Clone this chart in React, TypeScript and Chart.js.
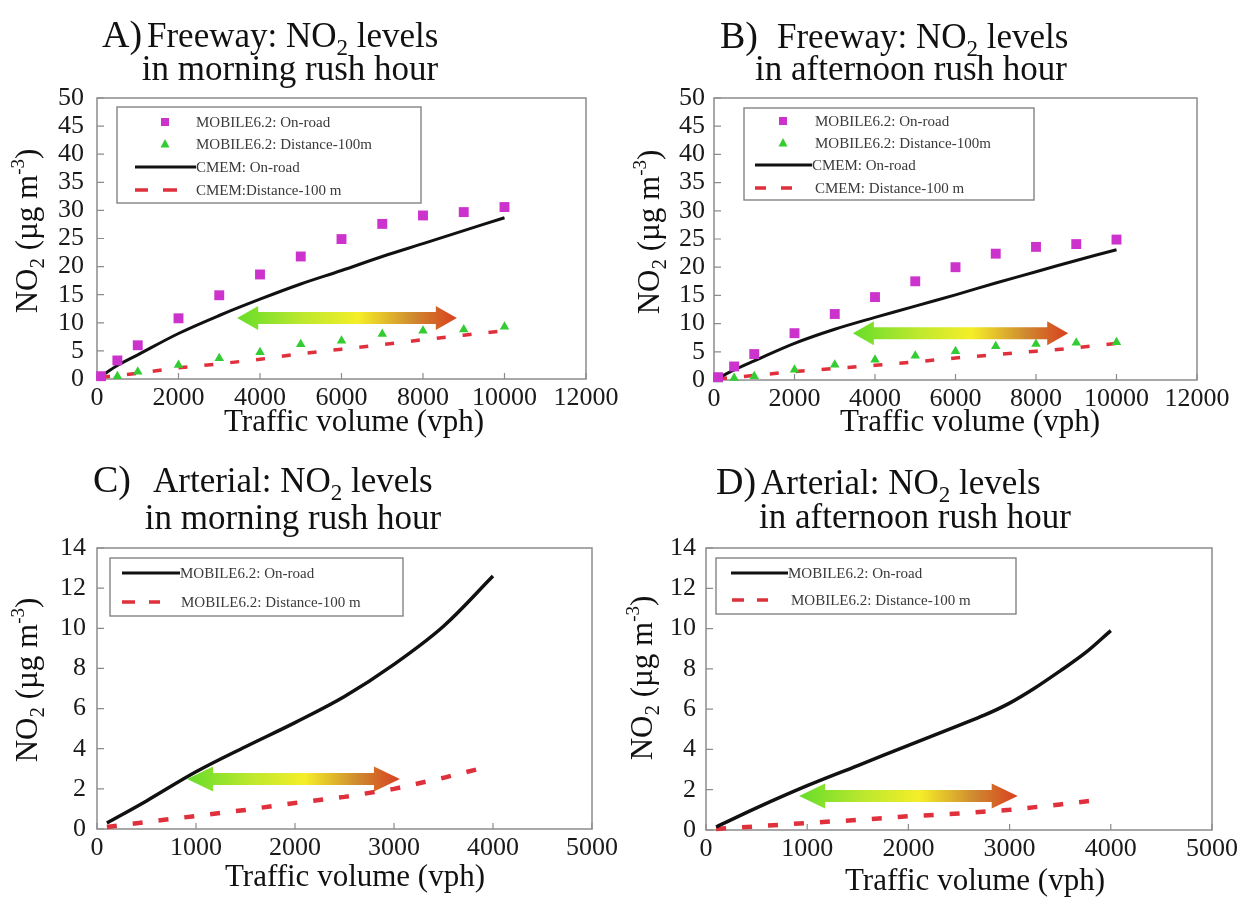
import { useEffect, useRef } from 'react';
import { Chart, registerables } from 'chart.js';

Chart.register(...registerables);

const SERIF = '"Liberation Serif", "Times New Roman", Times, serif';

// ---------------- Tick labels ----------------
const freewayXTicks = [0, 2000, 4000, 6000, 8000, 10000, 12000];
const freewayYTicks = [0, 5, 10, 15, 20, 25, 30, 35, 40, 45, 50];
const arterialXTicks = [0, 1000, 2000, 3000, 4000, 5000];
const arterialYTicks = [0, 2, 4, 6, 8, 10, 12, 14];

// ---------------- Panel A: Freeway, morning ----------------
const freewayVolumes = [100, 500, 1000, 2000, 3000, 4000, 5000, 6000, 7000, 8000, 9000, 10000];
const aMobileOnRoad = [0.5, 3.3, 6.0, 10.8, 14.9, 18.6, 21.8, 24.9, 27.6, 29.1, 29.7, 30.6];
const aMobileDist = [0.2, 0.5, 1.3, 2.5, 3.7, 4.75, 6.2, 6.8, 8.0, 8.6, 8.8, 9.3];
const aCmemOnRoad = [0.5, 2.4, 4.3, 8.1, 11.3, 14.2, 16.9, 19.3, 21.8, 24.1, 26.4, 28.7];
const freewayDistVolumes = [100, 1000, 2000, 3000, 4000, 5000, 6000, 7000, 8000, 9000, 10000];
const aCmemDist = [0.3, 1.0, 2.0, 2.7, 3.5, 4.5, 5.3, 6.1, 7.0, 7.8, 8.6];

// ---------------- Panel B: Freeway, afternoon ----------------
const bMobileOnRoad = [0.5, 2.4, 4.6, 8.3, 11.7, 14.7, 17.5, 20.0, 22.4, 23.6, 24.1, 24.9];
const bMobileDist = [0.1, 0.35, 0.65, 1.8, 2.7, 3.6, 4.3, 5.1, 6.0, 6.4, 6.6, 6.7];
const bCmemOnRoad = [0.3, 1.8, 3.4, 6.5, 9.0, 11.1, 13.1, 15.1, 17.2, 19.2, 21.2, 23.1];
const bCmemDist = [0.2, 0.8, 1.5, 2.05, 2.6, 3.2, 3.9, 4.5, 5.1, 5.7, 6.5];

// ---------------- Panel C: Arterial, morning ----------------
const cVolumes = [100, 500, 1000, 1500, 2000, 2500, 3000, 3500, 4000];
const cMobileOnRoad = [0.3, 1.4, 2.85, 4.1, 5.3, 6.6, 8.2, 10.1, 12.6];
const cDistVolumes = [100, 500, 1000, 1500, 2000, 2500, 3000, 3500, 3900];
const cMobileDist = [0.1, 0.35, 0.65, 0.95, 1.3, 1.6, 2.0, 2.55, 3.05];

// ---------------- Panel D: Arterial, afternoon ----------------
const dVolumes = [100, 500, 1000, 1500, 2000, 2500, 2750, 3000, 3250, 3500, 3750, 4000];
const dMobileOnRoad = [0.15, 1.1, 2.2, 3.2, 4.2, 5.2, 5.7, 6.3, 7.05, 7.9, 8.8, 9.9];
const dDistVolumes = [100, 500, 1000, 1500, 2000, 2500, 3000, 3500, 3800];
const dMobileDist = [0.05, 0.18, 0.35, 0.5, 0.68, 0.82, 1.0, 1.27, 1.45];

// ---------------- Colours ----------------
const MAGENTA = '#cc33cc';
const GREEN = '#33cc33';
const BLACK = '#111111';
const RED = '#e0303c';

const pts = (xs: number[], ys: number[]) => xs.map((x, i) => ({ x, y: ys[i] }));

const squareDs = (xs: number[], ys: number[]) => ({
  data: pts(xs, ys), showLine: false, pointStyle: 'rect', pointRadius: 7,
  backgroundColor: MAGENTA, borderColor: MAGENTA, borderWidth: 0, clip: 10,
});
const triDs = (xs: number[], ys: number[]) => ({
  data: pts(xs, ys), showLine: false, pointStyle: 'triangle', pointRadius: 5.5,
  backgroundColor: GREEN, borderColor: GREEN, borderWidth: 0, clip: 10,
});
const solidDs = (xs: number[], ys: number[], w: number) => ({
  data: pts(xs, ys), showLine: true, pointRadius: 0, borderColor: BLACK, borderWidth: w,
  tension: 0.35, fill: false, clip: 6,
});
const dashDs = (xs: number[], ys: number[], w: number, dash: number[]) => ({
  data: pts(xs, ys), showLine: true, pointRadius: 0, borderColor: RED, borderWidth: w,
  borderDash: dash, fill: false, clip: 6,
});

type Part = { t: string; size: number; dy?: number };
type LegendRow = { kind: 'square' | 'triangle' | 'line' | 'dash'; y: number; x1: number; x2?: number; dashes?: number[][]; textX: number; text: string };

interface PanelCfg {
  left: number; top: number; w: number; h: number;
  area: { l: number; t: number; r: number; b: number };
  xMax: number; yMax: number; xTicks: number[]; yTicks: number[]; yPad: number;
  datasets: any[];
  letter: string; letterX: number; line1: Part[]; line1X: number; base1: number;
  line2: string; line2CX: number; base2: number;
  yTitleX: number; yTitleY: number; xTitleCX: number; xTitleBase: number;
  legend: { l: number; t: number; r: number; b: number; rows: LegendRow[] };
  arrow: { x1: number; x2: number; y: number; headL: number; headH: number; shaftH: number };
}

function drawRich(ctx: CanvasRenderingContext2D, parts: Part[], x: number, y: number, align: 'left' | 'center') {
  let total = 0;
  for (const p of parts) { ctx.font = `${p.size}px ${SERIF}`; total += ctx.measureText(p.t).width; }
  let cx = align === 'center' ? x - total / 2 : x;
  ctx.textAlign = 'left';
  ctx.textBaseline = 'alphabetic';
  for (const p of parts) {
    ctx.font = `${p.size}px ${SERIF}`;
    ctx.fillText(p.t, cx, y + (p.dy || 0));
    cx += ctx.measureText(p.t).width;
  }
}

function makePlugin(cfg: PanelCfg) {
  return {
    id: 'panelDecor',
    beforeDatasetsDraw(chart: any) {
      const ctx: CanvasRenderingContext2D = chart.ctx;
      const a = chart.chartArea;
      const xs = chart.scales.x, ys = chart.scales.y;
      ctx.save();
      ctx.strokeStyle = '#8c8c8c';
      ctx.lineWidth = 1.5;
      ctx.strokeRect(a.left, a.top, a.right - a.left, a.bottom - a.top);
      ctx.lineWidth = 1.2;
      ctx.beginPath();
      for (const v of cfg.xTicks) {
        const px = xs.getPixelForValue(v);
        ctx.moveTo(px, a.bottom); ctx.lineTo(px, a.bottom - 6);
      }
      for (const v of cfg.yTicks) {
        const py = ys.getPixelForValue(v);
        ctx.moveTo(a.left, py); ctx.lineTo(a.left + 7, py);
      }
      ctx.stroke();
      ctx.restore();
    },
    afterDatasetsDraw(chart: any) {
      const ctx: CanvasRenderingContext2D = chart.ctx;
      const xs = chart.scales.x, ys = chart.scales.y;
      // gradient double arrow
      const ar = cfg.arrow;
      const x1 = xs.getPixelForValue(ar.x1), x2 = xs.getPixelForValue(ar.x2), y = ys.getPixelForValue(ar.y);
      ctx.save();
      ctx.beginPath();
      ctx.moveTo(x1, y);
      ctx.lineTo(x1 + ar.headL, y - ar.headH / 2);
      ctx.lineTo(x1 + ar.headL, y - ar.shaftH / 2);
      ctx.lineTo(x2 - ar.headL, y - ar.shaftH / 2);
      ctx.lineTo(x2 - ar.headL, y - ar.headH / 2);
      ctx.lineTo(x2, y);
      ctx.lineTo(x2 - ar.headL, y + ar.headH / 2);
      ctx.lineTo(x2 - ar.headL, y + ar.shaftH / 2);
      ctx.lineTo(x1 + ar.headL, y + ar.shaftH / 2);
      ctx.lineTo(x1 + ar.headL, y + ar.headH / 2);
      ctx.closePath();
      const g = ctx.createLinearGradient(x1, 0, x2, 0);
      g.addColorStop(0, '#66dd2a');
      g.addColorStop(0.3, '#bde82e');
      g.addColorStop(0.55, '#f5ee28');
      g.addColorStop(0.8, '#cf8a30');
      g.addColorStop(1, '#d8401e');
      ctx.fillStyle = g;
      ctx.fill();
      ctx.restore();

      // legend
      const L = cfg.legend;
      ctx.save();
      ctx.fillStyle = '#ffffff';
      ctx.fillRect(L.l, L.t, L.r - L.l, L.b - L.t);
      ctx.strokeStyle = '#7a7a7a';
      ctx.lineWidth = 1.3;
      ctx.strokeRect(L.l, L.t, L.r - L.l, L.b - L.t);
      for (const row of L.rows) {
        if (row.kind === 'square') {
          ctx.fillStyle = MAGENTA;
          ctx.fillRect(row.x1 - 4, row.y - 4, 8, 8);
        } else if (row.kind === 'triangle') {
          ctx.fillStyle = GREEN;
          ctx.beginPath();
          ctx.moveTo(row.x1, row.y - 5);
          ctx.lineTo(row.x1 + 4.5, row.y + 3.5);
          ctx.lineTo(row.x1 - 4.5, row.y + 3.5);
          ctx.closePath();
          ctx.fill();
        } else if (row.kind === 'line') {
          ctx.strokeStyle = BLACK;
          ctx.lineWidth = 3.2;
          ctx.beginPath();
          ctx.moveTo(row.x1, row.y); ctx.lineTo(row.x2 || row.x1, row.y);
          ctx.stroke();
        } else if (row.kind === 'dash') {
          ctx.strokeStyle = RED;
          ctx.lineWidth = 3.5;
          ctx.beginPath();
          for (const d of row.dashes || []) { ctx.moveTo(d[0], row.y); ctx.lineTo(d[1], row.y); }
          ctx.stroke();
        }
        ctx.fillStyle = '#3a3a3a';
        ctx.font = `15px ${SERIF}`;
        ctx.textAlign = 'left';
        ctx.textBaseline = 'middle';
        ctx.fillText(row.text, row.textX, row.y + 1);
      }
      ctx.restore();
    },
    afterDraw(chart: any) {
      const ctx: CanvasRenderingContext2D = chart.ctx;
      ctx.save();
      ctx.fillStyle = '#111111';
      // panel title
      drawRich(ctx, [{ t: cfg.letter, size: 38 }], cfg.letterX, cfg.base1, 'left');
      drawRich(ctx, cfg.line1, cfg.line1X, cfg.base1, 'left');
      drawRich(ctx, [{ t: cfg.line2, size: 35 }], cfg.line2CX, cfg.base2, 'center');
      // x axis title
      drawRich(ctx, [{ t: 'Traffic volume (vph)', size: 31 }], cfg.xTitleCX, cfg.xTitleBase, 'center');
      // y axis title
      ctx.translate(cfg.yTitleX, cfg.yTitleY);
      ctx.rotate(-Math.PI / 2);
      drawRich(ctx, [
        { t: 'NO', size: 31 }, { t: '2', size: 21, dy: 7 }, { t: ' (µg m', size: 31 },
        { t: '-3', size: 19, dy: -13 }, { t: ')', size: 31 },
      ], 0, 10, 'center');
      ctx.restore();
    },
  };
}

function buildConfig(cfg: PanelCfg): any {
  const tickFont = { family: SERIF, size: 26 };
  const plain = (v: any) => String(v);
  return {
    type: 'scatter',
    data: { datasets: cfg.datasets },
    options: {
      animation: false,
      responsive: false,
      devicePixelRatio: 1,
      layout: { padding: { top: cfg.area.t, right: cfg.w - cfg.area.r, left: 0, bottom: 0 } },
      plugins: { legend: { display: false }, tooltip: { enabled: false }, title: { display: false } },
      scales: {
        x: {
          type: 'linear', min: 0, max: cfg.xMax,
          afterBuildTicks: (s: any) => { s.ticks = cfg.xTicks.map((v) => ({ value: v })); },
          afterFit: (s: any) => { s.height = cfg.h - cfg.area.b; },
          grid: { display: false, drawTicks: false },
          border: { display: false },
          ticks: { font: tickFont, color: '#1a1a1a', padding: 4, maxRotation: 0, autoSkip: false, callback: plain },
        },
        y: {
          type: 'linear', min: 0, max: cfg.yMax,
          afterBuildTicks: (s: any) => { s.ticks = cfg.yTicks.map((v) => ({ value: v })); },
          afterFit: (s: any) => { s.width = cfg.area.l; },
          grid: { display: false, drawTicks: false },
          border: { display: false },
          ticks: { font: tickFont, color: '#1a1a1a', padding: cfg.yPad, autoSkip: false, callback: plain },
        },
      },
    },
    plugins: [makePlugin(cfg)],
  };
}

const sub2 = (before: string, after: string): Part[] => [
  { t: before, size: 35 }, { t: '2', size: 23, dy: 8 }, { t: after, size: 35 },
];

const panels: PanelCfg[] = [
  {
    left: 0, top: 0, w: 624, h: 456,
    area: { l: 97, t: 98, r: 586, b: 379 },
    xMax: 12000, yMax: 50, xTicks: freewayXTicks, yTicks: freewayYTicks, yPad: 13,
    datasets: [
      squareDs(freewayVolumes, aMobileOnRoad),
      triDs(freewayVolumes, aMobileDist),
      solidDs(freewayVolumes, aCmemOnRoad, 3),
      dashDs(freewayDistVolumes, aCmemDist, 3.5, [9, 17]),
    ],
    letter: 'A)', letterX: 102, line1: sub2('Freeway: NO', ' levels'), line1X: 147, base1: 47,
    line2: 'in morning rush hour', line2CX: 290, base2: 80,
    yTitleX: 27, yTitleY: 231, xTitleCX: 354, xTitleBase: 431,
    legend: {
      l: 117, t: 107, r: 421, b: 203,
      rows: [
        { kind: 'square', y: 122, x1: 165, textX: 196, text: 'MOBILE6.2: On-road' },
        { kind: 'triangle', y: 144, x1: 165, textX: 196, text: 'MOBILE6.2: Distance-100m' },
        { kind: 'line', y: 167, x1: 135, x2: 196, textX: 196, text: 'CMEM: On-road' },
        { kind: 'dash', y: 190, x1: 135, dashes: [[135, 148], [163, 177]], textX: 196, text: 'CMEM:Distance-100 m' },
      ],
    },
    arrow: { x1: 3440, x2: 8830, y: 10.85, headL: 21, headH: 24, shaftH: 12 },
  },
  {
    left: 624, top: 0, w: 623, h: 456,
    area: { l: 90, t: 98, r: 573, b: 380 },
    xMax: 12000, yMax: 50, xTicks: freewayXTicks, yTicks: freewayYTicks, yPad: 9,
    datasets: [
      squareDs(freewayVolumes, bMobileOnRoad),
      triDs(freewayVolumes, bMobileDist),
      solidDs(freewayVolumes, bCmemOnRoad, 3),
      dashDs(freewayDistVolumes, bCmemDist, 3.5, [9, 17]),
    ],
    letter: 'B)', letterX: 96, line1: sub2('Freeway: NO', ' levels'), line1X: 153, base1: 48,
    line2: 'in afternoon rush hour', line2CX: 287, base2: 80,
    yTitleX: 25, yTitleY: 232, xTitleCX: 346, xTitleBase: 431,
    legend: {
      l: 120, t: 108, r: 410, b: 200,
      rows: [
        { kind: 'square', y: 121, x1: 159, textX: 191, text: 'MOBILE6.2: On-road' },
        { kind: 'triangle', y: 143, x1: 159, textX: 191, text: 'MOBILE6.2: Distance-100m' },
        { kind: 'line', y: 165, x1: 131, x2: 188, textX: 188, text: 'CMEM: On-road' },
        { kind: 'dash', y: 188, x1: 131, dashes: [[131, 142], [157, 168]], textX: 191, text: 'CMEM: Distance-100 m' },
      ],
    },
    arrow: { x1: 3450, x2: 8800, y: 8.3, headL: 21, headH: 24, shaftH: 12 },
  },
  {
    left: 0, top: 456, w: 624, h: 455,
    area: { l: 97, t: 92, r: 592, b: 373 },
    xMax: 5000, yMax: 14, xTicks: arterialXTicks, yTicks: arterialYTicks, yPad: 11,
    datasets: [
      solidDs(cVolumes, cMobileOnRoad, 3.5),
      dashDs(cDistVolumes, cMobileDist, 4.5, [10, 16]),
    ],
    letter: 'C)', letterX: 93, line1: sub2('Arterial: NO', ' levels'), line1X: 153, base1: 36,
    line2: 'in morning rush hour', line2CX: 293, base2: 73,
    yTitleX: 27, yTitleY: 224, xTitleCX: 355, xTitleBase: 430,
    legend: {
      l: 110, t: 102, r: 403, b: 160,
      rows: [
        { kind: 'line', y: 117, x1: 122, x2: 180, textX: 180, text: 'MOBILE6.2: On-road' },
        { kind: 'dash', y: 146, x1: 122, dashes: [[122, 135], [149, 160]], textX: 181, text: 'MOBILE6.2: Distance-100 m' },
      ],
    },
    arrow: { x1: 910, x2: 3060, y: 2.49, headL: 26, headH: 25, shaftH: 12 },
  },
  {
    left: 624, top: 456, w: 623, h: 455,
    area: { l: 82, t: 92, r: 588, b: 374 },
    xMax: 5000, yMax: 14, xTicks: arterialXTicks, yTicks: arterialYTicks, yPad: 10,
    datasets: [
      solidDs(dVolumes, dMobileOnRoad, 3.5),
      dashDs(dDistVolumes, dMobileDist, 4.5, [10, 16]),
    ],
    letter: 'D)', letterX: 92, line1: sub2('Arterial: NO', ' levels'), line1X: 137, base1: 38,
    line2: 'in afternoon rush hour', line2CX: 291, base2: 72,
    yTitleX: 18, yTitleY: 222, xTitleCX: 351, xTitleBase: 434,
    legend: {
      l: 92, t: 102, r: 392, b: 158,
      rows: [
        { kind: 'line', y: 117, x1: 107, x2: 164, textX: 164, text: 'MOBILE6.2: On-road' },
        { kind: 'dash', y: 144, x1: 108, dashes: [[108, 120], [133, 144]], textX: 167, text: 'MOBILE6.2: Distance-100 m' },
      ],
    },
    arrow: { x1: 920, x2: 3080, y: 1.69, headL: 26, headH: 25, shaftH: 12 },
  },
];

function Panel({ cfg }: { cfg: PanelCfg }) {
  const ref = useRef<HTMLCanvasElement | null>(null);
  useEffect(() => {
    if (!ref.current) return;
    const chart = new Chart(ref.current, buildConfig(cfg));
    return () => chart.destroy();
  }, [cfg]);
  return (
    <canvas
      ref={ref}
      width={cfg.w}
      height={cfg.h}
      style={{ position: 'absolute', left: cfg.left, top: cfg.top, width: cfg.w, height: cfg.h }}
    />
  );
}

export default function App() {
  return (
    <div style={{ position: 'absolute', left: 0, top: 0, width: 1247, height: 911, background: '#ffffff', overflow: 'hidden' }}>
      {panels.map((p) => (
        <Panel key={p.letter} cfg={p} />
      ))}
    </div>
  );
}
